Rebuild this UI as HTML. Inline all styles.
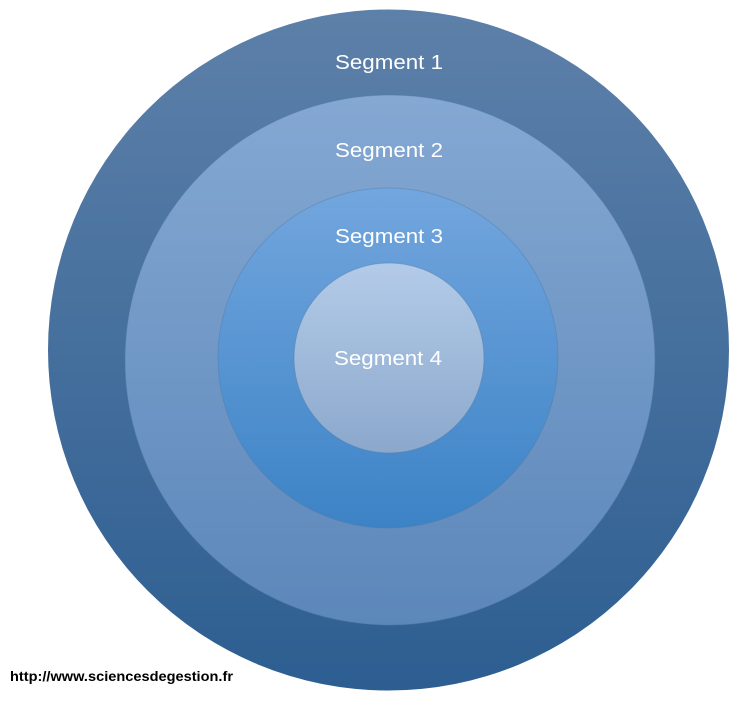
<!DOCTYPE html>
<html><head><meta charset="utf-8"><style>
html,body{margin:0;padding:0;background:#fff;width:753px;height:705px;overflow:hidden}
</style></head><body>
<svg width="753" height="705" viewBox="0 0 753 705" xmlns="http://www.w3.org/2000/svg">
<defs>
<linearGradient id="g1" x1="0" y1="0" x2="0" y2="1"><stop offset="0" stop-color="#5d80a9"/><stop offset="1" stop-color="#2d5e91"/></linearGradient>
<linearGradient id="g2" x1="0" y1="0" x2="0" y2="1"><stop offset="0" stop-color="#84a8d2"/><stop offset="1" stop-color="#5c87ba"/></linearGradient>
<linearGradient id="g3" x1="0" y1="0" x2="0" y2="1"><stop offset="0" stop-color="#73a6de"/><stop offset="1" stop-color="#3c83c6"/></linearGradient>
<linearGradient id="g4" x1="0" y1="0" x2="0" y2="1"><stop offset="0" stop-color="#b3cbe8"/><stop offset="1" stop-color="#8ba8cc"/></linearGradient>
</defs>
<circle cx="388.5" cy="350" r="340.5" fill="url(#g1)"/>
<circle cx="390" cy="360" r="265" fill="url(#g2)" stroke="#4f78a6" stroke-opacity="0.4"/>
<circle cx="388" cy="358" r="170" fill="url(#g3)" stroke="#4f78a6" stroke-opacity="0.4"/>
<circle cx="389" cy="358" r="95" fill="url(#g4)" stroke="#4f78a6" stroke-opacity="0.4"/>
<g font-family="Liberation Sans, sans-serif" font-size="20" fill="#fff">
<text x="335" y="69" textLength="108" lengthAdjust="spacingAndGlyphs">Segment 1</text>
<text x="335" y="157" textLength="108" lengthAdjust="spacingAndGlyphs">Segment 2</text>
<text x="335" y="243" textLength="108" lengthAdjust="spacingAndGlyphs">Segment 3</text>
<text x="334" y="365" textLength="108" lengthAdjust="spacingAndGlyphs">Segment 4</text>
</g>
<text x="10" y="681" font-family="Liberation Sans, sans-serif" font-size="13.5" font-weight="bold" fill="#000" textLength="223" lengthAdjust="spacingAndGlyphs">http://www.sciencesdegestion.fr</text>
</svg>
</body></html>
